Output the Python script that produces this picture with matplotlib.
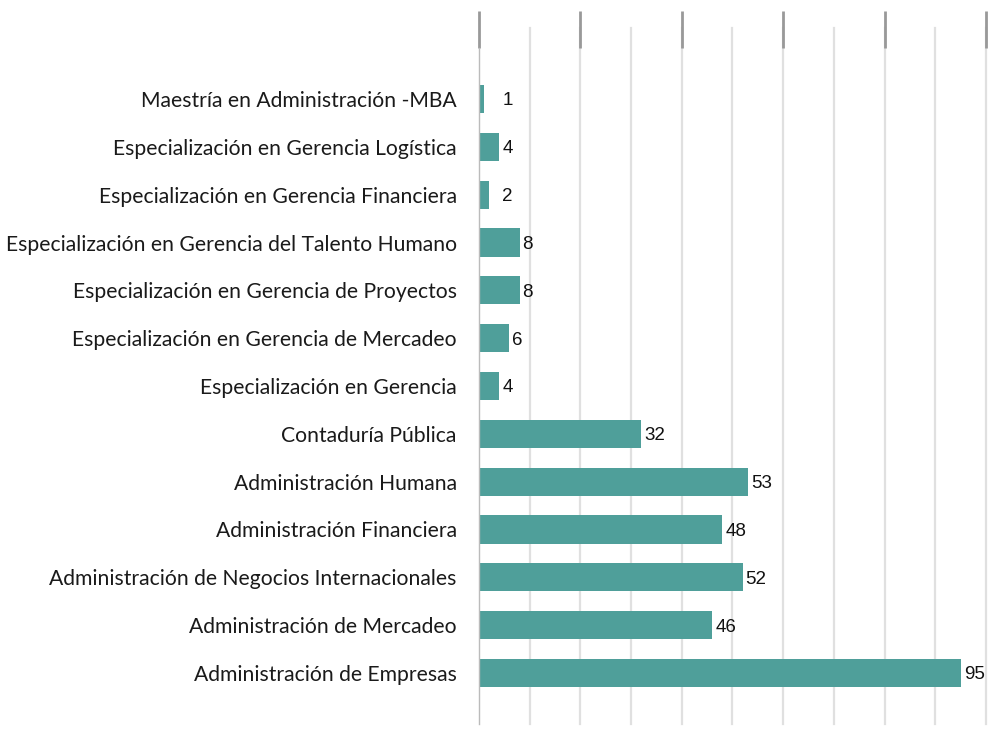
import matplotlib.pyplot as plt
from matplotlib.transforms import blended_transform_factory

# Number of graduates per programme
programs = [
    "Maestría en Administración -MBA",
    "Especialización en Gerencia Logística",
    "Especialización en Gerencia Financiera",
    "Especialización en Gerencia del Talento Humano",
    "Especialización en Gerencia de Proyectos",
    "Especialización en Gerencia de Mercadeo",
    "Especialización en Gerencia",
    "Contaduría Pública",
    "Administración Humana",
    "Administración Financiera",
    "Administración de Negocios Internacionales",
    "Administración de Mercadeo",
    "Administración de Empresas",
]
counts = [1, 4, 2, 8, 8, 6, 4, 32, 53, 48, 52, 46, 95]

BAR_COLOR = "#4f9f9a"
GRID_COLOR = "#e0e0e0"
TICK_COLOR = "#999999"

W, H = 995, 729
fig = plt.figure(figsize=(W / 100, H / 100), dpi=100)
ax = fig.add_axes([479 / W, 1 - 724 / H, (986 - 479) / W, (724 - 48) / H])

ypos = list(range(len(programs)))
ax.barh(ypos, counts, height=0.59, color=BAR_COLOR, zorder=3)

ax.set_xlim(0, 100)
ax.set_ylim(len(programs) - 1 + 1.067, -1.067)

# gridlines every 10, reaching a bit above the plot area
trans = blended_transform_factory(ax.transData, ax.transAxes)
for gx in range(10, 101, 10):
    ax.plot([gx, gx], [0, 1 + 20 / 676], transform=trans, color=GRID_COLOR,
            lw=1.6, clip_on=False, zorder=1)

# dark ticks along the top every 20
ax.xaxis.tick_top()
ax.set_xticks(range(0, 101, 20))
ax.set_xticklabels([])
ax.tick_params(axis="x", direction="out", length=27, width=2.0, color=TICK_COLOR)

ax.set_yticks(ypos)
ax.set_yticklabels(programs, fontfamily="Lato", fontsize=15.25, color="#1a1a1a")
ax.tick_params(axis="y", length=0, pad=16)

for s in ["top", "right", "bottom"]:
    ax.spines[s].set_visible(False)
ax.spines["left"].set_color("#bbbbbb")
ax.spines["left"].set_linewidth(1.0)
ax.spines["left"].set_zorder(4)

for y, v in zip(ypos, counts):
    ax.text(max(v, 4) + 0.6, y + 0.04, str(v), va="center", ha="left",
            fontfamily="Liberation Sans", fontsize=13.5, color="#111111", zorder=5)

fig.savefig("out.png", dpi=100)
